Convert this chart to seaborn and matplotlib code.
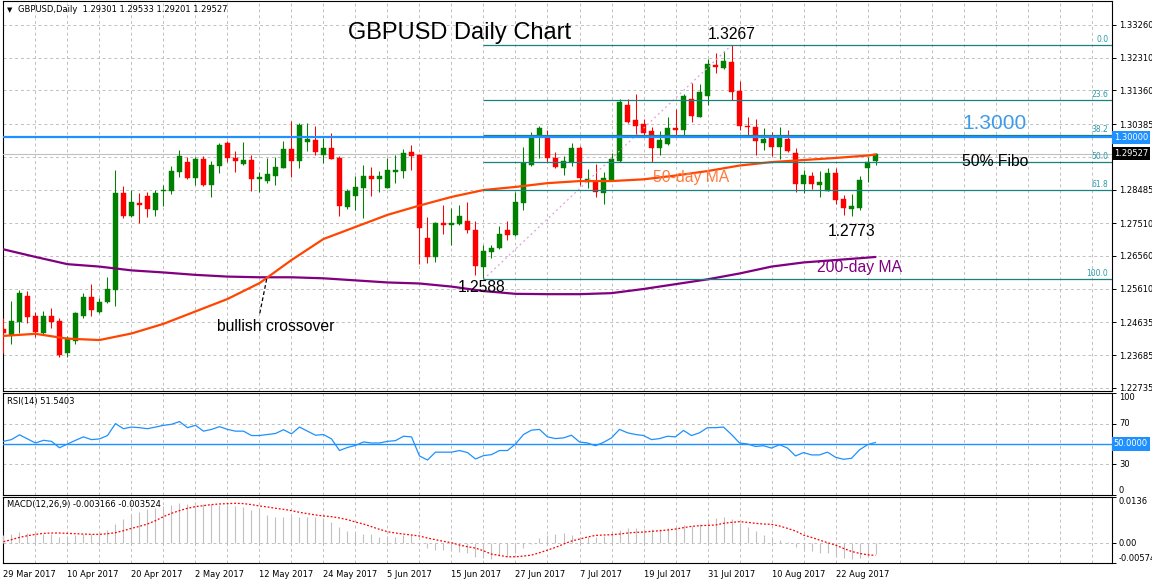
import numpy as np
import matplotlib
matplotlib.use("Agg")
import matplotlib.pyplot as plt
import matplotlib.transforms as mtransforms
from matplotlib.ticker import FixedLocator, MultipleLocator
import seaborn as sns

# ---------------- data (GBPUSD daily, 29 Mar 2017 .. 29 Aug 2017) ----------------
opens = [1.2444, 1.2427, 1.2465, 1.2540, 1.2482, 1.2433, 1.2482, 1.2467, 1.2375, 1.2410,
         1.2482, 1.2537, 1.2493, 1.2522, 1.2557, 1.2839, 1.2772, 1.2809, 1.2830, 1.2789,
         1.2843, 1.2844, 1.2900, 1.2929, 1.2881, 1.2937, 1.2862, 1.2917, 1.2982, 1.2941,
         1.2923, 1.2934, 1.2880, 1.2873, 1.2889, 1.2912, 1.2966, 1.2932, 1.2987, 1.2992,
         1.2950, 1.2969, 1.2941, 1.2799, 1.2831, 1.2854, 1.2888, 1.2878, 1.2854, 1.2900,
         1.2903, 1.2957, 1.2949, 1.2709, 1.2652, 1.2751, 1.2746, 1.2748, 1.2757, 1.2731,
         1.2625, 1.2668, 1.2678, 1.2731, 1.2717, 1.2810, 1.2920, 1.3004, 1.2997, 1.2941,
         1.2912, 1.2929, 1.2968, 1.2871, 1.2873, 1.2839, 1.2876, 1.2931, 1.3094, 1.3050,
         1.3038, 1.3018, 1.2970, 1.2980, 1.3026, 1.3021, 1.3111, 1.3060, 1.3121, 1.3210,
         1.3200, 1.3219, 1.3134, 1.3034, 1.3029, 1.2984, 1.2997, 1.2971, 1.2994, 1.2955,
         1.2864, 1.2889, 1.2862, 1.2845, 1.2896, 1.2820, 1.2792, 1.2796, 1.2912, 1.29301]
highs = [1.2475, 1.2525, 1.2557, 1.2554, 1.2494, 1.2496, 1.2506, 1.2477, 1.2424, 1.2494,
         1.2549, 1.2575, 1.2533, 1.2595, 1.2905, 1.2859, 1.2847, 1.2838, 1.2842, 1.2847,
         1.2862, 1.2917, 1.2963, 1.2942, 1.2942, 1.2947, 1.2931, 1.2984, 1.2988, 1.2959,
         1.2986, 1.2950, 1.2899, 1.2939, 1.2942, 1.2990, 1.3047, 1.3041, 1.3042, 1.3033,
         1.2997, 1.3013, 1.2945, 1.2850, 1.2888, 1.2920, 1.2913, 1.2902, 1.2939, 1.2949,
         1.2966, 1.2978, 1.2952, 1.2769, 1.2753, 1.2804, 1.2795, 1.2804, 1.2813, 1.2757,
         1.2688, 1.2688, 1.2743, 1.2757, 1.2841, 1.2973, 1.3016, 1.3033, 1.3021, 1.2958,
         1.2946, 1.2982, 1.2975, 1.2907, 1.2922, 1.2900, 1.2955, 1.3110, 1.3110, 1.3126,
         1.3052, 1.3029, 1.3018, 1.3058, 1.3082, 1.3125, 1.3157, 1.3154, 1.3226, 1.3245,
         1.3251, 1.3267, 1.3163, 1.3058, 1.3052, 1.3026, 1.3016, 1.3031, 1.3021, 1.2970,
         1.2905, 1.2900, 1.2903, 1.2910, 1.2910, 1.2833, 1.2836, 1.2889, 1.2944, 1.29533]
lows = [1.2375, 1.2400, 1.2432, 1.2462, 1.2422, 1.2427, 1.2448, 1.2364, 1.2362, 1.2400,
        1.2477, 1.2482, 1.2490, 1.2519, 1.2511, 1.2765, 1.2770, 1.2752, 1.2770, 1.2773,
        1.2801, 1.2835, 1.2885, 1.2878, 1.2862, 1.2860, 1.2828, 1.2897, 1.2927, 1.2899,
        1.2920, 1.2845, 1.2842, 1.2868, 1.2862, 1.2910, 1.2886, 1.2912, 1.2961, 1.2948,
        1.2924, 1.2936, 1.2772, 1.2791, 1.2790, 1.2767, 1.2830, 1.2842, 1.2852, 1.2868,
        1.2882, 1.2905, 1.2633, 1.2636, 1.2639, 1.2720, 1.2688, 1.2746, 1.2722, 1.2601,
        1.2588, 1.2651, 1.2676, 1.2702, 1.2714, 1.2789, 1.2918, 1.2939, 1.2929, 1.2910,
        1.2891, 1.2917, 1.2862, 1.2852, 1.2828, 1.2806, 1.2874, 1.2929, 1.3042, 1.3002,
        1.3002, 1.2929, 1.2949, 1.2978, 1.3004, 1.3002, 1.3045, 1.3058, 1.3094, 1.3187,
        1.3198, 1.3108, 1.3021, 1.3004, 1.2949, 1.2963, 1.2946, 1.2936, 1.2958, 1.2842,
        1.2839, 1.2849, 1.2828, 1.2843, 1.2806, 1.2775, 1.2773, 1.2789, 1.2871, 1.29201]
closes = [1.2432, 1.2467, 1.2549, 1.2480, 1.2435, 1.2482, 1.2464, 1.2369, 1.2417, 1.2491,
          1.2538, 1.2499, 1.2522, 1.2560, 1.2839, 1.2772, 1.2813, 1.2804, 1.2791, 1.2839,
          1.2845, 1.2903, 1.2946, 1.2881, 1.2937, 1.2862, 1.2920, 1.2978, 1.2939, 1.2932,
          1.2934, 1.2880, 1.2885, 1.2894, 1.2915, 1.2966, 1.2932, 1.3037, 1.2995, 1.2958,
          1.2969, 1.2938, 1.2802, 1.2843, 1.2855, 1.2888, 1.2878, 1.2888, 1.2905, 1.2905,
          1.2954, 1.2947, 1.2738, 1.2654, 1.2751, 1.2746, 1.2751, 1.2773, 1.2731, 1.2628,
          1.2670, 1.2678, 1.2720, 1.2717, 1.2811, 1.2925, 1.3004, 1.3028, 1.2939, 1.2915,
          1.2931, 1.2970, 1.2883, 1.2878, 1.2842, 1.2881, 1.2936, 1.3103, 1.3045, 1.3033,
          1.3013, 1.2970, 1.2992, 1.3026, 1.3021, 1.3120, 1.3062, 1.3132, 1.3212, 1.3203,
          1.3220, 1.3132, 1.3033, 1.3031, 1.2990, 1.2994, 1.2973, 1.3004, 1.2961, 1.2864,
          1.2891, 1.2864, 1.2869, 1.2896, 1.2818, 1.2794, 1.2801, 1.2876, 1.2929, 1.29527]

# moving averages read every 4 bars
ma_idx = [0, 4, 8, 12, 16, 20, 24, 28, 32, 36, 40, 44, 48, 52, 56, 60, 64, 68, 72, 76,
          80, 84, 88, 92, 96, 100, 104, 108, 109]
ma50 = [1.2424, 1.2430, 1.2416, 1.2412, 1.2431, 1.2459, 1.2495, 1.2531, 1.2577, 1.2644,
        1.2705, 1.2740, 1.2775, 1.2802, 1.2827, 1.2847, 1.2856, 1.2867, 1.2873, 1.2873,
        1.2878, 1.2889, 1.2902, 1.2918, 1.2928, 1.2934, 1.2940, 1.2947, 1.2950]
ma200 = [1.2675, 1.2653, 1.2632, 1.2625, 1.2614, 1.2608, 1.2601, 1.2596, 1.2594, 1.2594,
         1.2591, 1.2585, 1.2579, 1.2576, 1.2567, 1.2554, 1.2546, 1.2545, 1.2545, 1.2548,
         1.2560, 1.2574, 1.2588, 1.2605, 1.2625, 1.2637, 1.2644, 1.2651, 1.2653]

rsi = [52.6, 54.3, 59.0, 55.0, 51.0, 53.6, 52.6, 46.3, 50.0, 53.6,
       57.0, 54.3, 55.0, 58.3, 70.0, 65.0, 66.6, 66.0, 65.0, 66.6,
       68.3, 69.3, 72.0, 66.0, 68.3, 62.6, 64.3, 67.0, 64.3, 62.6,
       62.6, 58.3, 58.3, 59.3, 60.3, 64.0, 60.0, 66.6, 62.6, 58.6,
       59.3, 55.0, 43.6, 46.6, 48.6, 52.0, 51.0, 51.0, 52.6, 53.3,
       57.6, 57.0, 38.3, 34.3, 42.0, 42.0, 42.0, 43.6, 41.6, 35.3,
       38.6, 39.6, 43.6, 43.6, 50.0, 59.3, 63.6, 64.3, 57.0, 55.3,
       56.0, 58.6, 52.0, 51.0, 48.3, 51.6, 56.0, 64.3, 61.0, 59.3,
       58.3, 54.3, 55.3, 57.6, 57.0, 63.3, 58.3, 61.0, 66.0, 66.0,
       66.6, 59.3, 51.0, 50.0, 47.6, 48.3, 46.0, 49.3, 46.0, 38.3,
       41.6, 39.3, 39.3, 42.0, 37.0, 35.0, 36.0, 44.3, 49.3, 51.5403]

# MACD main (histogram) and signal, in units of 0.0001
macd_e4 = [24.5, 27.4, 34.3, 31.4, 27.4, 27.4, 27.4, 19.6, 21.6, 24.5,
           27.4, 27.4, 27.4, 39.2, 56.8, 70.6, 83.3, 91.1, 100.0, 104.9,
           109.8, 112.7, 117.6, 114.7, 112.7, 114.7, 114.7, 112.7, 112.7, 110.7,
           107.8, 98.0, 98.0, 83.3, 78.4, 78.4, 80.4, 78.4, 78.4, 78.4,
           75.5, 63.7, 49.0, 37.2, 31.4, 27.4, 27.4, 19.6, 22.5, 19.6,
           24.5, 24.5, 1.0, -14.7, -19.6, -19.6, -19.6, -24.5, -29.4, -39.2,
           -44.1, -46.0, -38.0, -39.2, -29.4, -14.7, -2.0, 14.7, 24.5, 27.4,
           31.4, 24.5, 19.6, 19.6, 17.6, 21.6, 29.4, 39.2, 44.1, 44.1,
           41.2, 41.2, 42.1, 44.1, 49.0, 53.9, 51.0, 56.8, 70.6, 73.5,
           76.4, 70.6, 60.8, 49.0, 37.2, 24.5, 14.7, 9.8, 4.9, -9.8,
           -17.6, -21.6, -27.4, -29.4, -37.2, -44.1, -47.0, -44.1, -39.2, -31.66]
signal_e4 = [5.0, 11.0, 17.6, 22.5, 26.5, 29.4, 30.4, 30.4, 29.4, 28.4,
             27.4, 26.5, 26.5, 28.4, 31.4, 37.2, 44.1, 50.0, 56.8, 66.6,
             78.4, 88.2, 96.0, 102.9, 107.8, 110.7, 113.7, 115.6, 116.6, 117.6,
             116.6, 113.7, 109.8, 106.8, 102.9, 100.0, 96.0, 91.1, 87.2, 83.3,
             80.4, 78.4, 74.5, 69.6, 62.7, 56.8, 49.0, 41.2, 34.3, 30.4,
             27.4, 24.5, 21.6, 15.7, 10.8, 5.9, 2.0, -4.9, -9.8, -13.7,
             -21.6, -31.4, -35.3, -39.2, -39.2, -37.2, -34.3, -27.4, -19.6, -11.8,
             -2.0, 6.9, 12.7, 18.6, 23.5, 24.5, 25.5, 27.4, 30.4, 32.3,
             33.3, 35.3, 37.2, 39.2, 42.1, 46.1, 50.0, 51.9, 52.9, 53.9,
             58.8, 61.7, 63.7, 61.7, 58.8, 56.8, 55.9, 51.0, 44.1, 36.3,
             24.5, 17.6, 9.8, 2.0, -4.9, -14.7, -23.5, -29.4, -33.3, -35.24]

price_ticks = [1.33260, 1.32310, 1.31360, 1.30385, 1.29435, 1.28485, 1.27510,
               1.26560, 1.25610, 1.24635, 1.23685, 1.22735]
date_pos = [0, 8, 16, 24, 32, 40, 48, 56, 64, 72, 80, 88, 96, 104]
date_labels = ["29 Mar 2017", "10 Apr 2017", "20 Apr 2017", "2 May 2017", "12 May 2017",
               "24 May 2017", "5 Jun 2017", "15 Jun 2017", "27 Jun 2017", "7 Jul 2017",
               "19 Jul 2017", "31 Jul 2017", "10 Aug 2017", "22 Aug 2017"]
fib_levels = [0.0, 23.6, 38.2, 50.0, 61.8, 100.0]
fib_low_bar, fib_high_bar = 60, 91
key_level = 1.3000
rsi_ticks = [0, 30, 70, 100]
macd_ticks = [-0.005746, 0.0, 0.0136]

# ---------------- style ----------------
sns.set_theme(style="white")
plt.rcParams['font.family'] = ['DejaVu Sans']
plt.rcParams['axes.linewidth'] = 0.8

W, H = 1152, 584
fig = plt.figure(figsize=(W / 100, H / 100), dpi=100)
fig.patch.set_facecolor('white')


def rect(top, bottom, left=3, right=1112):
    return [left / W, 1 - bottom / H, (right - left) / W, (bottom - top) / H]


ax = fig.add_axes(rect(1, 391))
axr = fig.add_axes(rect(393, 495))
axm = fig.add_axes(rect(497, 563))

XL = (-0.06, 138.56)
GRID = dict(color='#c0c0c0', linestyle=(0, (3, 3)), linewidth=0.7)
UP, DN = '#008000', '#ff0000'

for a in (ax, axr, axm):
    a.set_facecolor('white')
    for s in a.spines.values():
        s.set_color('black')
        s.set_linewidth(0.8)
    a.set_xlim(*XL)
    a.xaxis.set_major_locator(FixedLocator(date_pos))
    a.xaxis.set_minor_locator(MultipleLocator(4))
    a.grid(True, which='both', axis='x', **GRID)
    a.grid(True, which='major', axis='y', **GRID)
    a.set_axisbelow(True)
    a.yaxis.tick_right()
    a.tick_params(axis='y', which='major', length=3, width=0.7, direction='out',
                  labelsize=6, pad=2, colors='black', right=True, left=False)
    a.tick_params(axis='x', which='minor', length=0)

idx = np.arange(len(opens))
o, h, l, c = (np.array(v) for v in (opens, highs, lows, closes))
cols = np.where(c >= o, UP, DN)

# ---------------- main price panel ----------------
ax.vlines(idx, l, h, colors=cols, linewidth=0.75, zorder=3)
body_lo = np.minimum(o, c)
body_h = np.maximum(np.abs(c - o), 0.0003)
ax.bar(idx, body_h, bottom=body_lo, width=0.62, color=cols, edgecolor=cols,
       linewidth=0.3, zorder=3.1)

sns.lineplot(x=ma_idx, y=ma200, ax=ax, color='#800080', linewidth=1.6, zorder=4,
             sort=False, estimator=None, legend=False)
sns.lineplot(x=ma_idx, y=ma50, ax=ax, color='#ff4500', linewidth=1.6, zorder=4,
             sort=False, estimator=None, legend=False)

fib_low = lows[fib_low_bar]
fib_high = highs[fib_high_bar]
for lvl in fib_levels:
    pr = fib_high - lvl / 100.0 * (fib_high - fib_low)
    ax.hlines(pr, fib_low_bar, XL[1], color='#1a8080', linewidth=0.9, zorder=4.2)
    ax.text(138.1, pr + 0.0003, f"{lvl:.1f}", ha='right', va='bottom', fontsize=5.5,
            color='#2a9aa8', zorder=6)
ax.plot([fib_low_bar, fib_high_bar], [fib_low, fib_high], color='#dda0dd',
        linestyle=(0, (1.5, 2.5)), linewidth=0.9, zorder=4.1)

ax.axhline(closes[-1], color='#c0c0c0', linewidth=0.8, zorder=2.6)
ax.axhline(key_level, color='#1e90ff', linewidth=1.6, zorder=4.5)

# crossover pointer
ax.plot([32.9, 31.97], [1.2589, 1.2482], color='black', linestyle=(0, (3, 2)),
        linewidth=0.9, zorder=5)

ax.set_ylim(1.22642, 1.33952)
ax.set_yticks(price_ticks)
ax.set_yticklabels(['' if abs(p - 1.29435) < 1e-6 else f"{p:.5f}" for p in price_ticks])
ax.tick_params(axis='x', which='both', length=0, labelbottom=False)
ax.set_xlabel('')
ax.set_ylabel('')

ANN = dict(family=['Liberation Sans', 'DejaVu Sans'], ha='center', va='center', zorder=7)
ax.text(fib_high_bar + 0.06, 1.3297, f"{fib_high:.4f}", fontsize=11.3, color='black', **ANN)
ax.text(59.8, 1.2563, f"{fib_low:.4f}", fontsize=11.3, color='black', **ANN)
ax.text(106.0, 1.2728, f"{min(lows[100:]):.4f}", fontsize=11.3, color='black', **ANN)
ax.text(123.9, 1.3041, f"{key_level:.4f}", fontsize=15, color='#3d9be9', **ANN)
ax.text(123.9, 1.2931, "50% Fibo", fontsize=11.3, color='black', **ANN)
ax.text(85.9, 1.2882, "50-day MA", fontsize=11.3, color='#ff7a3d', **ANN)
ax.text(107.0, 1.2621, "200-day MA", fontsize=11.3, color='#800080', **ANN)
ax.text(34.0, 1.2450, "bullish crossover", fontsize=11.3, color='black', **ANN)

ax.text(4 / 1109, 0.977, "\u25BC", transform=ax.transAxes, fontsize=5, ha='left',
        va='center', color='black')
ax.text(15 / 1109, 0.977,
        f"GBPUSD,Daily  {opens[-1]:.5f} {highs[-1]:.5f} {lows[-1]:.5f} {closes[-1]:.5f}",
        transform=ax.transAxes, fontsize=6, ha='left', va='center', color='black')

trm = mtransforms.blended_transform_factory(ax.transAxes, ax.transData)
ax.text(1.0015, key_level, f"{key_level:.5f}", transform=trm, fontsize=6, color='white',
        ha='left', va='center', clip_on=False, zorder=10,
        bbox=dict(boxstyle='square,pad=0.25', fc='#1e90ff', ec='none'))
ax.text(1.0015, closes[-1], f"{closes[-1]:.5f}", transform=trm, fontsize=6, color='white',
        ha='left', va='center', clip_on=False, zorder=10,
        bbox=dict(boxstyle='square,pad=0.25', fc='black', ec='none'))

fig.text(460 / W, 1 - 33 / H, "GBPUSD Daily Chart", fontsize=17,
         family=['Liberation Sans', 'DejaVu Sans'], ha='center', va='center', color='black')

# ---------------- RSI panel ----------------
axr.axhline(50, color='#1e90ff', linewidth=1.0, zorder=3)
sns.lineplot(x=idx, y=rsi, ax=axr, color='#1e90ff', linewidth=0.9, zorder=4,
             sort=False, estimator=None, legend=False)
axr.set_ylim(0, 100)
axr.set_yticks(rsi_ticks)
axr.set_yticklabels([str(v) for v in rsi_ticks])
for lab, v in zip(axr.get_yticklabels(), rsi_ticks):
    lab.set_va('bottom' if v == 0 else ('top' if v == 100 else 'center'))
axr.tick_params(axis='x', which='both', length=0, labelbottom=False)
axr.set_xlabel('')
axr.set_ylabel('')
axr.text(4 / 1109, 0.92, f"RSI(14) {rsi[-1]:.4f}", transform=axr.transAxes, fontsize=6,
         ha='left', va='center', color='black')
trr = mtransforms.blended_transform_factory(axr.transAxes, axr.transData)
axr.text(1.0015, 50, "50.0000", transform=trr, fontsize=6, color='white', ha='left',
         va='center', clip_on=False, zorder=10,
         bbox=dict(boxstyle='square,pad=0.25', fc='#1e90ff', ec='none'))

# ---------------- MACD panel ----------------
macd = np.array(macd_e4) * 1e-4
signal = np.array(signal_e4) * 1e-4
axm.vlines(idx, 0, macd, colors='#c0c0c0', linewidth=0.8, zorder=3)
sns.lineplot(x=idx, y=signal, ax=axm, color='red', linewidth=0.9, zorder=4,
             linestyle=(0, (1.5, 1.5)), sort=False, estimator=None, legend=False)
axm.set_ylim(macd_ticks[0], macd_ticks[-1])
axm.set_yticks(macd_ticks)
axm.set_yticklabels(["-0.005746", "0.00", "0.0136"])
for lab, v in zip(axm.get_yticklabels(), macd_ticks):
    lab.set_va('bottom' if v < 0 else ('top' if v > 0 else 'center'))
axm.set_xticks(date_pos)
axm.set_xticklabels(date_labels, ha='left', fontsize=6)
axm.tick_params(axis='x', which='major', length=3, width=0.7, direction='out', pad=2,
                colors='black')
axm.set_xlabel('')
axm.set_ylabel('')
axm.text(4 / 1109, 0.88, f"MACD(12,26,9) {macd[-1]:.6f} {signal[-1]:.6f}",
         transform=axm.transAxes, fontsize=6, ha='left', va='center', color='black')

fig.savefig("out.png", dpi=100, facecolor='white')
